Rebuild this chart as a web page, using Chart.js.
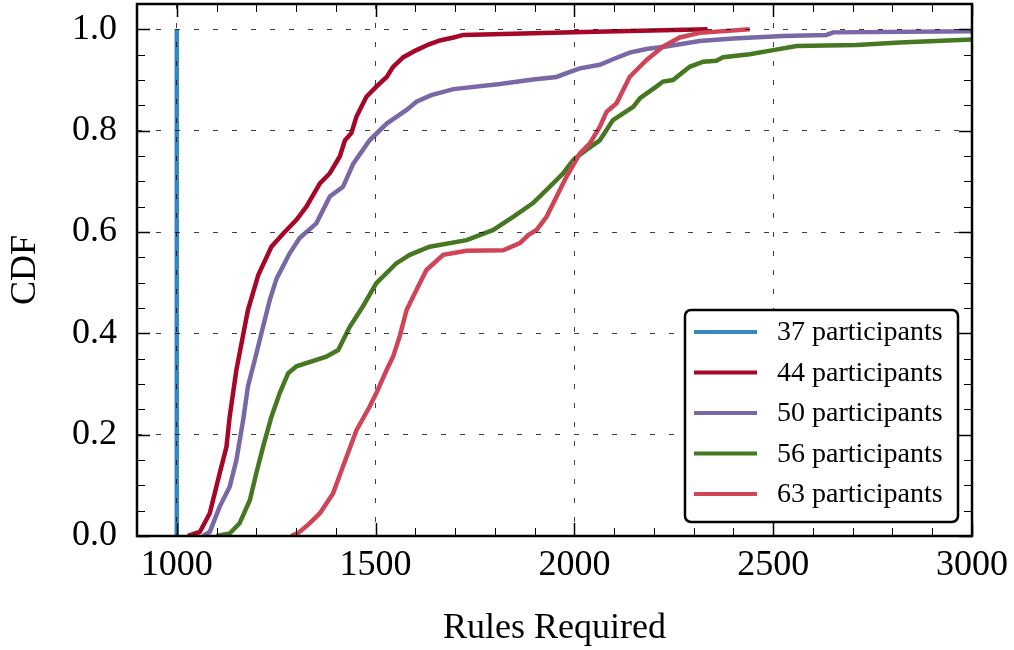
<!DOCTYPE html>
<html>
<head>
<meta charset="utf-8">
<title>Rules Required CDF</title>
<script src="https://cdn.jsdelivr.net/npm/chart.js@4.4.1/dist/chart.umd.min.js"></script>
<style>
    html, body { margin: 0; padding: 0; background: #ffffff; }
    #cdfChart { display: block; }
</style>
</head>
<body>
<div style="width:1014px;height:650px;position:relative;">
    <canvas id="cdfChart" width="1014" height="650"></canvas>
</div>
<script>
// series labels and colours
var seriesLabels = ['37 participants', '44 participants', '50 participants', '56 participants', '63 participants'];
var seriesColors = ['#348ABD', '#A60628', '#7A68A6', '#467821', '#CF4457'];

// 37 participants
var p37X = [1000, 1000];
var p37Y = [0, 1.0];

// 44 participants
var p44X = [1028, 1058, 1083, 1108, 1125, 1133, 1150, 1179, 1205, 1238, 1268, 1301, 1326, 1360, 1385, 1410, 1423, 1439, 1452, 1477, 1502, 1528, 1544, 1570, 1603, 1633, 1662, 1696, 1721, 1997, 2335];
var p44Y = [0, 0.008, 0.045, 0.124, 0.176, 0.235, 0.328, 0.446, 0.515, 0.571, 0.597, 0.624, 0.650, 0.696, 0.716, 0.749, 0.781, 0.795, 0.828, 0.867, 0.887, 0.906, 0.926, 0.945, 0.959, 0.970, 0.978, 0.984, 0.989, 0.994, 1.0];

// 50 participants
var p50X = [1066, 1083, 1108, 1133, 1150, 1167, 1179, 1196, 1217, 1234, 1251, 1284, 1309, 1351, 1385, 1418, 1444, 1485, 1528, 1578, 1603, 1640, 1696, 1813, 1896, 1955, 1989, 2014, 2064, 2097, 2139, 2181, 2231, 2315, 2399, 2525, 2634, 2651, 3000];
var p50Y = [0, 0.008, 0.058, 0.097, 0.150, 0.229, 0.295, 0.347, 0.413, 0.466, 0.508, 0.558, 0.588, 0.617, 0.670, 0.689, 0.735, 0.781, 0.814, 0.841, 0.857, 0.870, 0.882, 0.892, 0.901, 0.906, 0.916, 0.923, 0.930, 0.941, 0.954, 0.961, 0.966, 0.977, 0.982, 0.987, 0.989, 0.994, 0.996];

// 56 participants
var p56X = [1100, 1133, 1158, 1184, 1200, 1217, 1238, 1259, 1280, 1301, 1376, 1406, 1435, 1468, 1502, 1552, 1586, 1636, 1729, 1796, 1846, 1896, 1930, 1972, 1997, 2030, 2064, 2097, 2148, 2165, 2206, 2223, 2248, 2290, 2324, 2357, 2374, 2441, 2500, 2559, 2710, 2818, 3000];
var p56Y = [0, 0.005, 0.025, 0.071, 0.124, 0.176, 0.235, 0.282, 0.321, 0.335, 0.354, 0.367, 0.413, 0.453, 0.499, 0.538, 0.555, 0.571, 0.584, 0.604, 0.630, 0.657, 0.683, 0.716, 0.742, 0.762, 0.781, 0.821, 0.847, 0.864, 0.887, 0.897, 0.900, 0.926, 0.936, 0.938, 0.945, 0.951, 0.959, 0.967, 0.969, 0.974, 0.980];

// 63 participants
var p63X = [1288, 1309, 1334, 1360, 1393, 1418, 1452, 1485, 1502, 1528, 1544, 1561, 1578, 1603, 1628, 1670, 1729, 1821, 1863, 1884, 1905, 1930, 1951, 1980, 2014, 2039, 2064, 2081, 2106, 2139, 2181, 2223, 2265, 2315, 2441];
var p63Y = [0, 0.008, 0.025, 0.045, 0.084, 0.137, 0.209, 0.255, 0.282, 0.328, 0.354, 0.395, 0.446, 0.486, 0.525, 0.555, 0.563, 0.564, 0.578, 0.594, 0.604, 0.630, 0.663, 0.709, 0.755, 0.775, 0.808, 0.837, 0.854, 0.906, 0.939, 0.966, 0.984, 0.993, 1.0];

// axis ranges and tick steps
var xMin = 900, xMax = 3000, xMinorStep = 100, xMajorStep = 500;
var yMin = 0, yMax = 1.05, yMinorStep = 0.05, yMajorStep = 0.2;

var serifFont = '"Liberation Serif", "DejaVu Serif", serif';

// pair up x and y arrays into points
function toPoints(xs, ys) {
    return xs.map(function (x, i) { return { x: x, y: ys[i] }; });
}

function isMajorX(v) { return Math.round(v) % xMajorStep === 0; }
function isMajorY(v) { return Math.round(v * 100) % Math.round(yMajorStep * 100) === 0; }

// draws inward tick marks and the frame round the plot
const frameTicksPlugin = {
    id: 'frameTicks',
    afterDraw: function (chart) {
        const ctx = chart.ctx;
        const area = chart.chartArea;
        const xs = chart.scales.x;
        const ys = chart.scales.y;
        ctx.save();
        ctx.strokeStyle = '#000000';

        xs.ticks.forEach(function (t) {
            const px = Math.round(xs.getPixelForValue(t.value)) + 0.5;
            const major = isMajorX(t.value);
            const len = major ? 13 : 8;
            ctx.lineWidth = major ? 1.5 : 1;
            ctx.beginPath();
            ctx.moveTo(px, area.bottom);
            ctx.lineTo(px, area.bottom - len);
            ctx.moveTo(px, area.top);
            ctx.lineTo(px, area.top + len);
            ctx.stroke();
        });

        ys.ticks.forEach(function (t) {
            const py = Math.round(ys.getPixelForValue(t.value)) + 0.5;
            const major = isMajorY(t.value);
            const len = major ? 13 : 8;
            ctx.lineWidth = major ? 1.5 : 1;
            ctx.beginPath();
            ctx.moveTo(area.left, py);
            ctx.lineTo(area.left + len, py);
            ctx.moveTo(area.right, py);
            ctx.lineTo(area.right - len, py);
            ctx.stroke();
        });

        // frame
        ctx.lineWidth = 2.5;
        ctx.strokeRect(area.left, area.top, area.right - area.left, area.bottom - area.top);
        ctx.restore();
    }
};

// draws the legend box inside the lower right of the plot
const innerLegendPlugin = {
    id: 'innerLegend',
    afterDraw: function (chart) {
        const ctx = chart.ctx;
        const area = chart.chartArea;
        const boxW = 273, boxH = 212;
        const left = area.right - 14 - boxW;
        const top = area.bottom - 14 - boxH;
        ctx.save();
        ctx.beginPath();
        ctx.roundRect(left, top, boxW, boxH, 6);
        ctx.fillStyle = '#ffffff';
        ctx.fill();
        ctx.lineWidth = 2.5;
        ctx.strokeStyle = '#000000';
        ctx.stroke();

        ctx.font = '28px ' + serifFont;
        ctx.textBaseline = 'middle';
        ctx.textAlign = 'left';
        chart.data.datasets.forEach(function (ds, i) {
            const cy = top + 22 + i * 40.5;
            ctx.strokeStyle = ds.borderColor;
            ctx.lineWidth = 4;
            ctx.beginPath();
            ctx.moveTo(left + 9, cy);
            ctx.lineTo(left + 72, cy);
            ctx.stroke();
            ctx.fillStyle = '#000000';
            ctx.fillText(ds.label, left + 92, cy + 1);
        });
        ctx.restore();
    }
};

// build datasets
var seriesX = [p37X, p44X, p50X, p56X, p63X];
var seriesY = [p37Y, p44Y, p50Y, p56Y, p63Y];
var datasets = seriesLabels.map(function (label, i) {
    return {
        label: label,
        data: toPoints(seriesX[i], seriesY[i]),
        borderColor: seriesColors[i],
        backgroundColor: seriesColors[i],
        borderWidth: 4.5,
        pointRadius: 0,
        tension: 0,
        fill: false,
        order: seriesLabels.length - i
    };
});

// define config
const config = {
    type: 'line',
    data: { datasets: datasets },
    options: {
        responsive: false,
        animation: false,
        layout: { padding: { top: 4, right: 42, left: 0, bottom: 0 } },
        plugins: {
            legend: { display: false },
            tooltip: { enabled: false }
        },
        scales: {
            x: {
                type: 'linear',
                min: xMin,
                max: xMax,
                afterFit: function (scale) {
                    // fixed axis band, no extra edge padding for labels
                    scale.height = 114;
                    scale.paddingLeft = 0;
                    scale.paddingRight = 0;
                },
                ticks: {
                    stepSize: xMinorStep,
                    autoSkip: false,
                    maxRotation: 0,
                    padding: 8,
                    color: '#000000',
                    font: { family: serifFont, size: 36 },
                    callback: function (v) { return isMajorX(v) ? String(v) : ''; }
                },
                grid: {
                    drawTicks: false,
                    z: 1,
                    lineWidth: 1,
                    color: function (c) { return c.tick && isMajorX(c.tick.value) ? 'rgba(0,0,0,0.75)' : 'rgba(0,0,0,0)'; }
                },
                border: { display: false, dash: [5, 14] },
                title: {
                    display: true,
                    text: 'Rules Required',
                    color: '#000000',
                    padding: { top: 0, bottom: 0 },
                    font: { family: serifFont, size: 36 }
                }
            },
            y: {
                type: 'linear',
                min: yMin,
                max: yMax,
                afterFit: function (scale) {
                    scale.width = 137;
                    scale.paddingTop = 0;
                    scale.paddingBottom = 0;
                },
                ticks: {
                    stepSize: yMinorStep,
                    autoSkip: false,
                    padding: 20,
                    color: '#000000',
                    font: { family: serifFont, size: 36 },
                    callback: function (v) { return isMajorY(v) ? v.toFixed(1) : ''; }
                },
                grid: {
                    drawTicks: false,
                    z: 1,
                    lineWidth: 1,
                    color: function (c) { return c.tick && isMajorY(c.tick.value) ? 'rgba(0,0,0,0.75)' : 'rgba(0,0,0,0)'; }
                },
                border: { display: false, dash: [5, 14] },
                title: {
                    display: true,
                    text: 'CDF',
                    color: '#000000',
                    padding: { top: 4, bottom: 0 },
                    font: { family: serifFont, size: 36 }
                }
            }
        }
    },
    plugins: [frameTicksPlugin, innerLegendPlugin]
};

// draw chart
const cdfChart = new Chart(document.getElementById('cdfChart'), config);
</script>
</body>
</html>
